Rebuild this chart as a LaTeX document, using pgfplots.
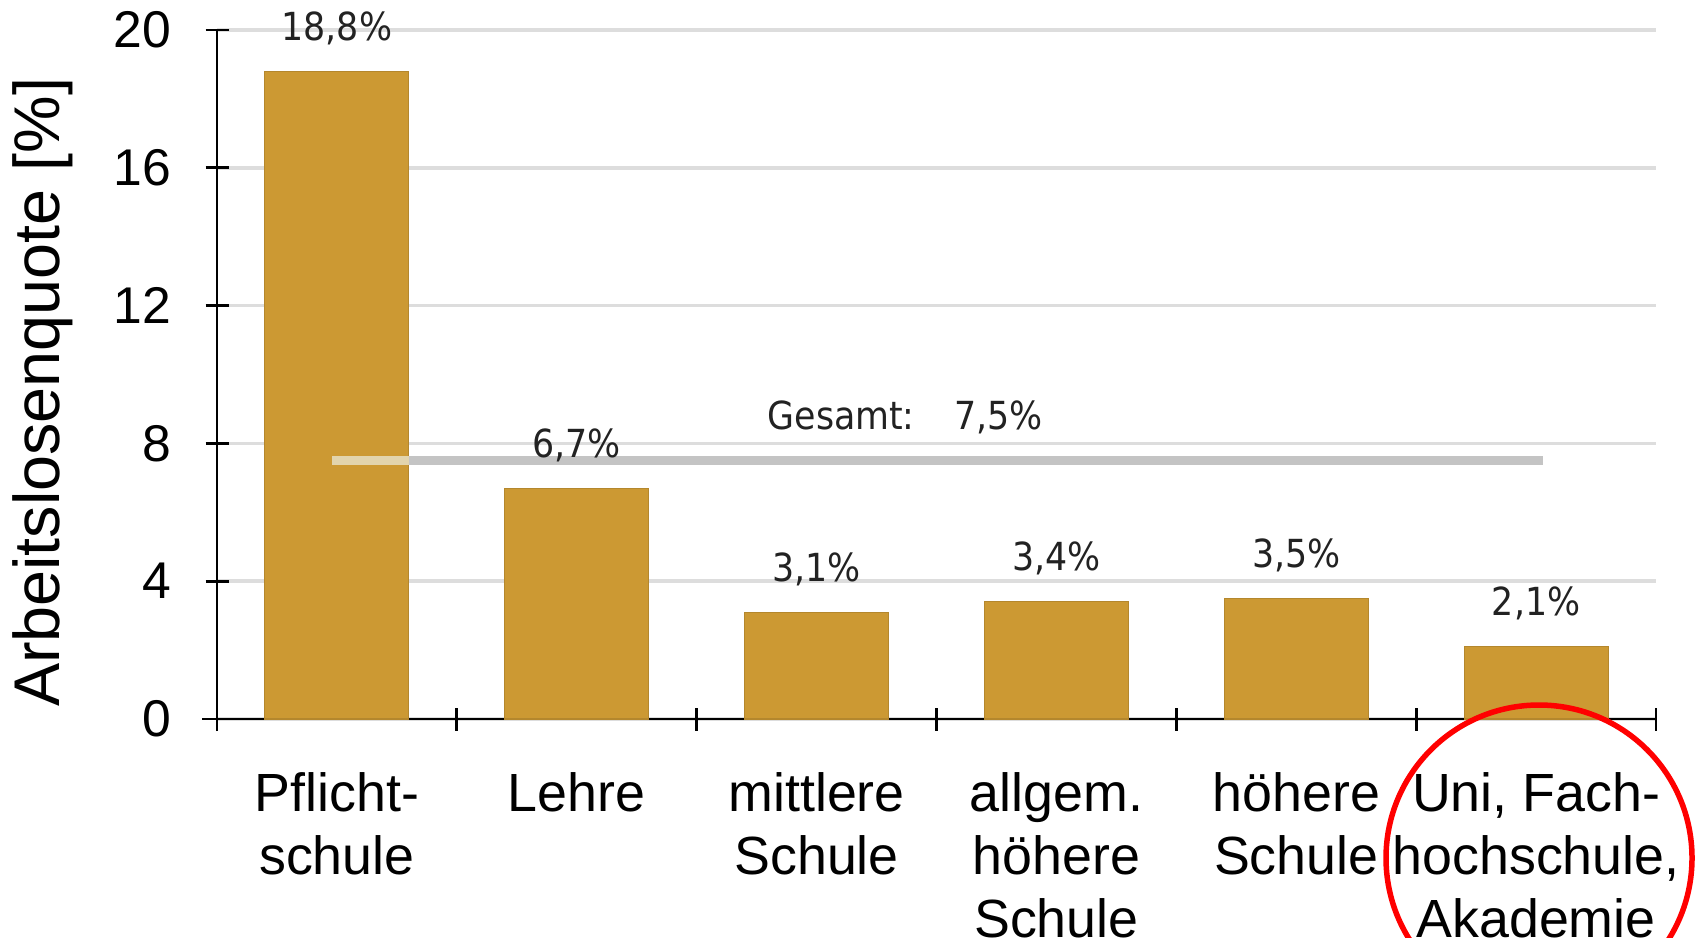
\documentclass[border=0pt]{standalone}
\usepackage{fontspec}
\setmainfont{Liberation Sans}
\newfontfamily\valfont{DejaVu Sans Condensed}
\usepackage{pgfplots}
\pgfplotsset{compat=1.18}
\definecolor{barcol}{HTML}{CC9933}
\definecolor{valcol}{HTML}{222222}
\definecolor{linecol}{RGB}{196,196,196}
\definecolor{lineonbar}{RGB}{226,212,172}
\begin{document}
\begin{tikzpicture}
\begin{axis}[
  at={(21.7mm,21.8mm)}, anchor=south west,
  scale only axis, width=143.9mm, height=68.9mm,
  xmin=-0.5, xmax=5.5, ymin=0, ymax=20,
  clip=false,
  axis x line*=bottom, axis y line*=left,
  axis line style={-, line width=0.8pt, black},
  x axis line style={shorten <=-1.5mm},
  y axis line style={shorten <=-1.2mm},
  tick align=center,
  tick style={black, line width=0.8pt},
  major tick length=2.3mm,
  ytick={0,4,...,20},
  ymajorgrids, grid style={gray!27, line width=1pt},
  yticklabel style={font=\fontsize{14.7}{17}\selectfont, /pgf/number format/assume math mode=true, anchor=east, inner sep=0pt, xshift=-3.4mm},
  xtick={0.5,1.5,...,5.5},
  xticklabels={},
  extra x ticks={0,1,2,3,4,5},
  extra x tick labels={{Pflicht-\\schule},{Lehre},{mittlere\\Schule},{allgem.\\höhere\\Schule},{höhere\\Schule},{Uni, Fach-\\hochschule,\\Akademie}},
  extra x tick style={major tick length=0pt, grid=none,
    xticklabel style={font=\fontsize{15.3}{17.9}\selectfont, align=center, anchor=north, inner sep=0pt, yshift=-5.3mm}},
  ylabel={Arbeitslosenquote [\%]},
  ylabel style={font=\fontsize{18.4}{22}\selectfont, at={(rel axis cs:-0.1209,0.474)}, anchor=center, rotate=0},
]
\addplot[ybar, bar width=14.4mm, fill=barcol, draw=barcol!88!black, line width=0.3pt,
  nodes near coords={\pgfmathprintnumber[fixed,fixed zerofill,precision=1,use comma,assume math mode=true]{\pgfplotspointmeta}\%},
  every node near coord/.append style={font=\valfont\fontsize{11}{13}\selectfont, text=valcol, anchor=center, yshift=4.3mm}]
  coordinates {(0,18.8) (1,6.7) (2,3.1) (3,3.4) (4,3.5) (5,2.1)};
\addplot[color=linecol, line width=0.9mm] coordinates {(0.3,7.5) (5.03,7.5)};
\addplot[color=lineonbar, line width=0.9mm] coordinates {(-0.02,7.5) (0.3,7.5)};
\node[font=\valfont\fontsize{11}{13}\selectfont, text=valcol] at (axis cs:2.37,8.76) {Gesamt:\hspace{4mm}7,5\%};
\end{axis}
\draw[red, line width=0.55mm] (153.9mm,7.9mm) circle (15.3mm);
\pgfresetboundingbox
\path[use as bounding box] (0,0) rectangle (170.1mm,93.7mm);
\end{tikzpicture}
\end{document}
